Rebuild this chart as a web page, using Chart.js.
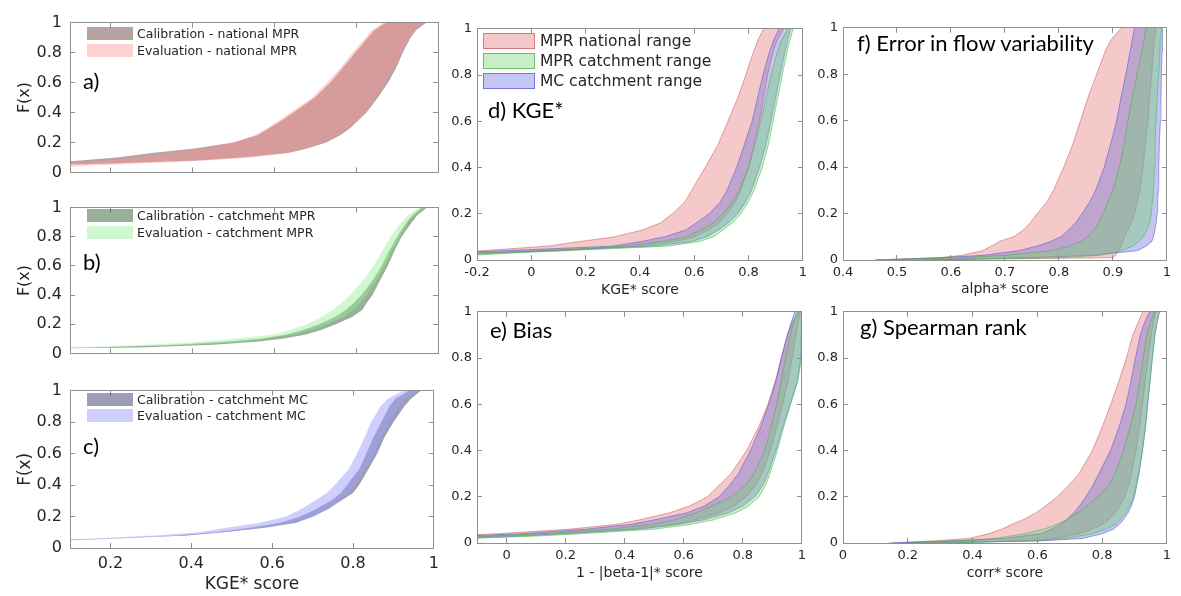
<!DOCTYPE html>
<html>
<head>
<meta charset="utf-8">
<script src="https://cdn.jsdelivr.net/npm/chart.js@4.4.1/dist/chart.umd.min.js"></script>
<style>
  html, body { margin: 0; padding: 0; background: #fff; }
  #fig { position: relative; width: 1181px; height: 596px; overflow: hidden; background: #fff; }
  #fig canvas { position: absolute; }
  .lbl { position: absolute; font-family: Lato, 'Open Sans', sans-serif; font-size: 22px; line-height: 26px; color: #000; white-space: nowrap; }
  .leg { position: absolute; font-family: 'DejaVu Sans', sans-serif; color: #262626; white-space: nowrap; display: flex; align-items: center; }
  .leg .sw { display: inline-block; box-sizing: border-box; flex: none; }
</style>
</head>
<body>
<div id="fig"></div>
<script>
// ---- cumulative probability levels F(x) at which each curve is sampled ----
const F_ABC = [0.02, 0.04, 0.06, 0.08, 0.1, 0.13, 0.16, 0.2, 0.25, 0.3, 0.35, 0.4, 0.5, 0.6, 0.7, 0.8, 0.9, 0.95, 1.0];
const F_DE  = [0.02, 0.03, 0.04, 0.06, 0.08, 0.1, 0.13, 0.16, 0.2, 0.25, 0.3, 0.4, 0.5, 0.6, 0.7, 0.8, 0.9, 0.95, 1.0];
const F_FG  = [0, 0.01, 0.02, 0.04, 0.06, 0.08, 0.1, 0.13, 0.16, 0.2, 0.25, 0.3, 0.4, 0.5, 0.6, 0.7, 0.8, 0.9, 0.95, 1.0];

// ---- a) national MPR, KGE* score: left (best) and right (worst) edge of each range ----
const aCalL = [-1.2, -0.25, 0.02, 0.125, 0.215, 0.30, 0.405, 0.50, 0.56, 0.59, 0.62, 0.647, 0.699, 0.737, 0.768, 0.798, 0.829, 0.845, 0.874];
const aCalR = [-0.8, -0.1, 0.2, 0.41, 0.52, 0.633, 0.68, 0.727, 0.762, 0.787, 0.806, 0.825, 0.853, 0.878, 0.898, 0.914, 0.933, 0.947, 0.972];
const aEvaL = [-1.0, -0.1, 0.07, 0.185, 0.255, 0.345, 0.42, 0.50, 0.553, 0.585, 0.614, 0.64, 0.693, 0.729, 0.762, 0.792, 0.823, 0.839, 0.866];
const aEvaR = [-0.7, 0.1, 0.27, 0.435, 0.545, 0.633, 0.675, 0.724, 0.758, 0.782, 0.804, 0.82, 0.848, 0.87, 0.893, 0.91, 0.93, 0.944, 0.972];

// ---- b) catchment MPR ----
const bCalL = [-0.9, 0.15, 0.36, 0.48, 0.565, 0.63, 0.67, 0.71, 0.748, 0.775, 0.796, 0.813, 0.84, 0.862, 0.88, 0.9, 0.923, 0.938, 0.96];
const bCalR = [-0.6, 0.27, 0.45, 0.556, 0.62, 0.677, 0.714, 0.75, 0.79, 0.815, 0.827, 0.84, 0.858, 0.877, 0.893, 0.911, 0.936, 0.95, 0.973];
const bEvaL = [-1.0, 0.09, 0.29, 0.42, 0.5, 0.6, 0.638, 0.68, 0.715, 0.744, 0.766, 0.785, 0.817, 0.842, 0.863, 0.884, 0.91, 0.927, 0.955];
const bEvaR = [-0.7, 0.2, 0.4, 0.52, 0.58, 0.65, 0.69, 0.73, 0.768, 0.795, 0.812, 0.825, 0.85, 0.87, 0.888, 0.907, 0.927, 0.943, 0.968];

// ---- c) catchment MC ----
const cCalL = [-0.8, -0.05, 0.19, 0.36, 0.46, 0.55, 0.62, 0.67, 0.71, 0.745, 0.77, 0.785, 0.815, 0.833, 0.85, 0.87, 0.89, 0.905, 0.94];
const cCalR = [-0.6, 0.0, 0.21, 0.39, 0.48, 0.587, 0.66, 0.70, 0.74, 0.77, 0.8, 0.815, 0.838, 0.86, 0.877, 0.9, 0.927, 0.944, 0.968];
const cEvaL = [-0.9, -0.1, 0.16, 0.31, 0.42, 0.49, 0.57, 0.635, 0.673, 0.705, 0.735, 0.755, 0.789, 0.81, 0.828, 0.845, 0.868, 0.887, 0.925];
const cEvaR = [-0.6, -0.02, 0.2, 0.38, 0.475, 0.58, 0.655, 0.705, 0.738, 0.765, 0.792, 0.805, 0.83, 0.852, 0.87, 0.89, 0.915, 0.932, 0.96];

// ---- d) KGE* ranges ----
const dNatL = [-0.8, -0.45, -0.18, 0.06, 0.18, 0.305, 0.41, 0.475, 0.52, 0.565, 0.59, 0.64, 0.688, 0.724, 0.76, 0.79, 0.818, 0.834, 0.855];
const dNatR = [-0.6, -0.2, 0.1, 0.4, 0.53, 0.6, 0.65, 0.69, 0.72, 0.75, 0.77, 0.8, 0.82, 0.84, 0.855, 0.87, 0.89, 0.905, 0.93];
const dMprL = [-0.5, -0.2, 0.05, 0.35, 0.48, 0.57, 0.625, 0.67, 0.705, 0.74, 0.765, 0.8, 0.824, 0.845, 0.864, 0.883, 0.906, 0.922, 0.945];
const dMprR = [-0.22, -0.07, 0.12, 0.5, 0.62, 0.67, 0.706, 0.74, 0.772, 0.798, 0.82, 0.85, 0.873, 0.89, 0.907, 0.924, 0.942, 0.952, 0.964];
const dMcL  = [-0.6, -0.35, -0.1, 0.3, 0.405, 0.49, 0.57, 0.607, 0.655, 0.695, 0.72, 0.756, 0.785, 0.813, 0.833, 0.853, 0.877, 0.892, 0.912];
const dMcR  = [-0.3, -0.12, 0.05, 0.45, 0.59, 0.645, 0.69, 0.725, 0.76, 0.788, 0.81, 0.84, 0.864, 0.882, 0.899, 0.916, 0.934, 0.944, 0.955];

// ---- e) bias ranges ----
const eNatL = [-0.45, -0.2, -0.03, 0.215, 0.37, 0.45, 0.55, 0.62, 0.68, 0.72, 0.76, 0.813, 0.853, 0.885, 0.91, 0.931, 0.951, 0.965, 0.99];
const eNatR = [-0.3, 0.0, 0.18, 0.42, 0.56, 0.64, 0.72, 0.77, 0.81, 0.845, 0.865, 0.893, 0.915, 0.935, 0.953, 0.967, 0.98, 0.987, 0.995];
const eMprL = [-0.4, -0.05, 0.12, 0.35, 0.49, 0.57, 0.64, 0.695, 0.762, 0.81, 0.838, 0.875, 0.895, 0.915, 0.93, 0.945, 0.96, 0.97, 0.985];
const eMprR = [-0.12, 0.1, 0.25, 0.5, 0.62, 0.7, 0.775, 0.82, 0.855, 0.877, 0.892, 0.917, 0.938, 0.962, 0.986, 0.999, 0.999, 0.999, 0.999];
const eMcL  = [-0.5, -0.15, 0.05, 0.27, 0.42, 0.5, 0.61, 0.67, 0.72, 0.755, 0.785, 0.826, 0.86, 0.888, 0.912, 0.93, 0.951, 0.963, 0.976];
const eMcR  = [-0.15, 0.05, 0.2, 0.45, 0.58, 0.665, 0.75, 0.8, 0.84, 0.868, 0.885, 0.912, 0.935, 0.96, 0.985, 0.996, 0.998, 0.999, 0.999];

// ---- f) flow variability ranges ----
const fNatL = [0.46, 0.58, 0.62, 0.658, 0.675, 0.69, 0.716, 0.735, 0.747, 0.76, 0.778, 0.79, 0.809, 0.826, 0.84, 0.854, 0.87, 0.886, 0.897, 0.916];
const fNatR = [0.5, 0.9, 0.905, 0.91, 0.915, 0.918, 0.922, 0.928, 0.934, 0.94, 0.945, 0.95, 0.956, 0.96, 0.965, 0.968, 0.972, 0.975, 0.977, 0.98];
const fMprL = [0.46, 0.62, 0.7, 0.785, 0.82, 0.84, 0.853, 0.865, 0.873, 0.882, 0.891, 0.9, 0.912, 0.921, 0.928, 0.936, 0.945, 0.954, 0.958, 0.962];
const fMprR = [0.55, 0.8, 0.875, 0.915, 0.937, 0.948, 0.956, 0.963, 0.968, 0.971, 0.973, 0.975, 0.977, 0.978, 0.98, 0.982, 0.985, 0.987, 0.988, 0.99];
const fMcL  = [0.46, 0.58, 0.66, 0.725, 0.76, 0.785, 0.804, 0.818, 0.831, 0.843, 0.857, 0.868, 0.884, 0.896, 0.907, 0.915, 0.924, 0.932, 0.936, 0.94];
const fMcR  = [0.55, 0.75, 0.86, 0.945, 0.962, 0.972, 0.975, 0.978, 0.98, 0.982, 0.983, 0.984, 0.985, 0.986, 0.988, 0.989, 0.99, 0.991, 0.992, 0.992];

// ---- g) Spearman rank ranges ----
const gNatL = [0.14, 0.29, 0.39, 0.45, 0.49, 0.52, 0.555, 0.595, 0.625, 0.662, 0.698, 0.729, 0.77, 0.8, 0.827, 0.852, 0.875, 0.895, 0.91, 0.926];
const gNatR = [0.2, 0.6, 0.66, 0.73, 0.77, 0.8, 0.82, 0.84, 0.855, 0.87, 0.882, 0.89, 0.905, 0.915, 0.925, 0.933, 0.942, 0.952, 0.958, 0.965];
const gMprL = [0.2, 0.38, 0.47, 0.56, 0.62, 0.66, 0.688, 0.725, 0.753, 0.787, 0.822, 0.84, 0.866, 0.886, 0.905, 0.916, 0.927, 0.938, 0.948, 0.962];
const gMprR = [0.3, 0.6, 0.69, 0.77, 0.81, 0.842, 0.855, 0.873, 0.885, 0.897, 0.905, 0.912, 0.924, 0.933, 0.94, 0.948, 0.955, 0.963, 0.969, 0.977];
const gMcL  = [0.15, 0.35, 0.5, 0.61, 0.645, 0.67, 0.69, 0.712, 0.73, 0.75, 0.772, 0.79, 0.826, 0.852, 0.874, 0.889, 0.903, 0.918, 0.93, 0.947];
const gMcR  = [0.3, 0.62, 0.74, 0.8, 0.835, 0.853, 0.865, 0.88, 0.89, 0.9, 0.907, 0.914, 0.925, 0.934, 0.941, 0.948, 0.955, 0.963, 0.969, 0.977];

// ---- tick values ----
const yTicks   = [0, 0.2, 0.4, 0.6, 0.8, 1];
const xTicksAC = [0.2, 0.4, 0.6, 0.8, 1];
const xTicksD  = [-0.2, 0, 0.2, 0.4, 0.6, 0.8, 1];
const xTicksE  = [0, 0.2, 0.4, 0.6, 0.8, 1];
const xTicksF  = [0.4, 0.5, 0.6, 0.7, 0.8, 0.9, 1];
const xTicksG  = [0, 0.2, 0.4, 0.6, 0.8, 1];

// ---- styles ----
const FRAME = '#8f8f8f';
const TEXT = '#262626';
const TL = 5; // inward tick length
const COL = {
  aCal: 'rgba(120,85,85,0.55)',  aEva: 'rgba(255,150,150,0.45)',
  bCal: 'rgba(50,95,50,0.5)',    bEva: 'rgba(150,240,150,0.45)',
  cCal: 'rgba(60,60,105,0.5)',   cEva: 'rgba(160,160,255,0.5)',
  nat: 'rgba(230,120,120,0.4)',  natLine: 'rgba(205,90,90,0.7)',
  mpr: 'rgba(110,210,110,0.38)', mprLine: 'rgba(70,175,70,0.7)',
  mc:  'rgba(110,110,220,0.4)',  mcLine: 'rgba(90,90,215,0.75)'
};

const fig = document.getElementById('fig');
const fmt = v => String(+Number(v).toFixed(2));

function axis(position, min, max, ticks, o) {
  const horiz = position === 'top' || position === 'bottom';
  return {
    type: 'linear', axis: horiz ? 'x' : 'y', position, min, max, display: true,
    border: { display: true, color: FRAME, width: 1 },
    grid: { drawOnChartArea: false, drawTicks: true, tickLength: -TL, color: FRAME, lineWidth: 1 },
    ticks: {
      display: !!o.labels, padding: o.pad || 0, color: TEXT, autoSkip: false, maxRotation: 0,
      font: { family: 'DejaVu Sans', size: o.fs || 13 }, callback: fmt
    },
    title: o.title
      ? { display: true, text: o.title, color: TEXT, font: { family: 'DejaVu Sans', size: o.tfs, lineHeight: 1.2 }, padding: o.tpad || 0 }
      : { display: false },
    afterBuildTicks: s => { s.ticks = ticks.map(v => ({ value: v })); },
    afterFit: s => { if (horiz) s.height = o.size; else s.width = o.size; }
  };
}

function band(F, xl, xr, fillColor, lineColor, lw) {
  const common = { pointRadius: 0, borderWidth: lw, borderColor: lineColor, xAxisID: 'x', yAxisID: 'y', tension: 0 };
  return [
    Object.assign({ data: F.map((f, i) => ({ x: xl[i], y: f })), fill: '+1', backgroundColor: fillColor }, common),
    Object.assign({ data: F.map((f, i) => ({ x: xr[i], y: f })), fill: false }, common)
  ];
}

function panel(p) {
  const [l, t, r, b] = p.area;
  const w = Math.round((r - l) + p.yw + p.pr);
  const h = Math.round((b - t) + p.pt + p.xh);
  const cv = document.createElement('canvas');
  cv.width = w; cv.height = h;
  cv.style.left = (l - p.yw) + 'px'; cv.style.top = (t - p.pt) + 'px';
  cv.style.width = w + 'px'; cv.style.height = h + 'px';
  fig.appendChild(cv);
  new Chart(cv, {
    type: 'line',
    data: { datasets: p.datasets },
    options: {
      responsive: false, animation: false, devicePixelRatio: 1, indexAxis: 'y',
      layout: { padding: { top: p.pt, right: p.pr, left: 0, bottom: 0 } },
      plugins: { legend: { display: false }, tooltip: { enabled: false } },
      events: [],
      scales: {
        x:  axis('bottom', p.xmin, p.xmax, p.xticks, { labels: p.xlabels, pad: p.xpad, fs: p.fs, title: p.xtitle, tfs: p.tfs, size: p.xh }),
        x2: axis('top', p.xmin, p.xmax, p.xticks, { size: 0 }),
        y:  axis('left', 0, 1, yTicks, { labels: true, pad: p.ypad, fs: p.fs, title: p.ytitle, tfs: p.tfs, tpad: p.ytpad, size: p.yw }),
        y2: axis('right', 0, 1, yTicks, { size: 0 })
      }
    }
  });
}

function text(str, x, cy, cls) {
  const d = document.createElement('div');
  d.className = cls || 'lbl';
  d.textContent = str;
  d.style.left = x + 'px';
  d.style.top = (cy - 13) + 'px';
  fig.appendChild(d);
}

function legend(x, rows, o) {
  rows.forEach(row => {
    const d = document.createElement('div');
    d.className = 'leg';
    d.style.left = x + 'px';
    d.style.top = (row.cy - o.lh / 2) + 'px';
    d.style.height = o.lh + 'px';
    d.style.fontSize = o.fs + 'px';
    const sw = document.createElement('span');
    sw.className = 'sw';
    sw.style.width = o.sw + 'px';
    sw.style.height = o.sh + 'px';
    sw.style.background = row.fill;
    if (row.line) sw.style.border = '1px solid ' + row.line;
    sw.style.marginRight = o.gap + 'px';
    const tx = document.createElement('span');
    tx.textContent = row.text;
    d.appendChild(sw); d.appendChild(tx);
    fig.appendChild(d);
  });
}

// ---- left column: calibration vs evaluation ----
const leftCommon = { yw: 70, pr: 12, xmin: 0.1, xmax: 1, xticks: xTicksAC, fs: 16, ypad: 8 + TL, ytitle: 'F(x)', tfs: 16, ytpad: 15 };
panel(Object.assign({}, leftCommon, { area: [70, 13, 438, 182], pt: 13, xh: 13, xlabels: false,
  datasets: [...band(F_ABC, aEvaL, aEvaR, COL.aEva, 'transparent', 0), ...band(F_ABC, aCalL, aCalR, COL.aCal, 'transparent', 0)] }));
panel(Object.assign({}, leftCommon, { area: [70, 195, 438, 364], pt: 10, xh: 12, xlabels: false,
  datasets: [...band(F_ABC, bEvaL, bEvaR, COL.bEva, 'transparent', 0), ...band(F_ABC, bCalL, bCalR, COL.bCal, 'transparent', 0)] }));
panel(Object.assign({}, leftCommon, { area: [70, 378, 438, 548], pt: 10, xh: 47, xlabels: true, xpad: 11, xtitle: 'KGE* score', tfs: 17,
  datasets: [...band(F_ABC, cEvaL, cEvaR, COL.cEva, 'transparent', 0), ...band(F_ABC, cCalL, cCalR, COL.cCal, 'transparent', 0)] }));

// ---- right block: ranges of the three set-ups per metric ----
const rightCommon = { yw: 35, fs: 13, ypad: 5 + TL, xpad: 10, xlabels: true, tfs: 14 };
function trio(F, nl, nr, ml, mr, cl, cr) {
  return [...band(F, ml, mr, COL.mpr, COL.mprLine, 0.8), ...band(F, cl, cr, COL.mc, COL.mcLine, 0.8), ...band(F, nl, nr, COL.nat, COL.natLine, 0.8)];
}
panel(Object.assign({}, rightCommon, { area: [477, 21, 807, 260], pt: 10, pr: 10, xh: 39, xmin: -0.2, xmax: 1, xticks: xTicksD, xtitle: 'KGE* score',
  datasets: trio(F_DE, dNatL, dNatR, dMprL, dMprR, dMcL, dMcR) }));
panel(Object.assign({}, rightCommon, { area: [477, 304, 806, 543], pt: 10, pr: 10, xh: 39, xmin: -0.1, xmax: 1, xticks: xTicksE, xtitle: '1 - |beta-1|* score',
  datasets: trio(F_DE, eNatL, eNatR, eMprL, eMprR, eMcL, eMcR) }));
panel(Object.assign({}, rightCommon, { area: [843, 20, 1173, 260], pt: 10, pr: 8, xh: 38, xmin: 0.4, xmax: 1, xticks: xTicksF, xtitle: 'alpha* score',
  datasets: trio(F_FG, fNatL, fNatR, fMprL, fMprR, fMcL, fMcR) }));
panel(Object.assign({}, rightCommon, { area: [843, 304, 1173, 543], pt: 10, pr: 8, xh: 39, xmin: 0, xmax: 1, xticks: xTicksG, xtitle: 'corr* score',
  datasets: trio(F_FG, gNatL, gNatR, gMprL, gMprR, gMcL, gMcR) }));

// ---- panel letters and titles ----
text('a)', 83, 81);
text('b)', 83, 262);
text('c)', 83, 446);
text('d) KGE*', 488, 110);
text('e) Bias', 490, 330);
text('f) Error in flow variability', 857, 43);
text('g) Spearman rank', 860, 327);

// ---- legends ----
const smallLeg = { sw: 46, sh: 13, gap: 4, fs: 12.5, lh: 16 };
legend(87, [
  { cy: 33.5, text: 'Calibration - national MPR', fill: COL.aCal },
  { cy: 50.5, text: 'Evaluation - national MPR', fill: COL.aEva }
], smallLeg);
legend(87, [
  { cy: 215.5, text: 'Calibration - catchment MPR', fill: COL.bCal },
  { cy: 232.5, text: 'Evaluation - catchment MPR', fill: COL.bEva }
], smallLeg);
legend(87, [
  { cy: 399, text: 'Calibration - catchment MC', fill: COL.cCal },
  { cy: 415.5, text: 'Evaluation - catchment MC', fill: COL.cEva }
], smallLeg);
legend(483, [
  { cy: 41, text: 'MPR national range', fill: COL.nat, line: COL.natLine },
  { cy: 61, text: 'MPR catchment range', fill: COL.mpr, line: COL.mprLine },
  { cy: 81, text: 'MC catchment range', fill: COL.mc, line: COL.mcLine }
], { sw: 52, sh: 16, gap: 5, fs: 15.5, lh: 20 });
</script>
</body>
</html>
